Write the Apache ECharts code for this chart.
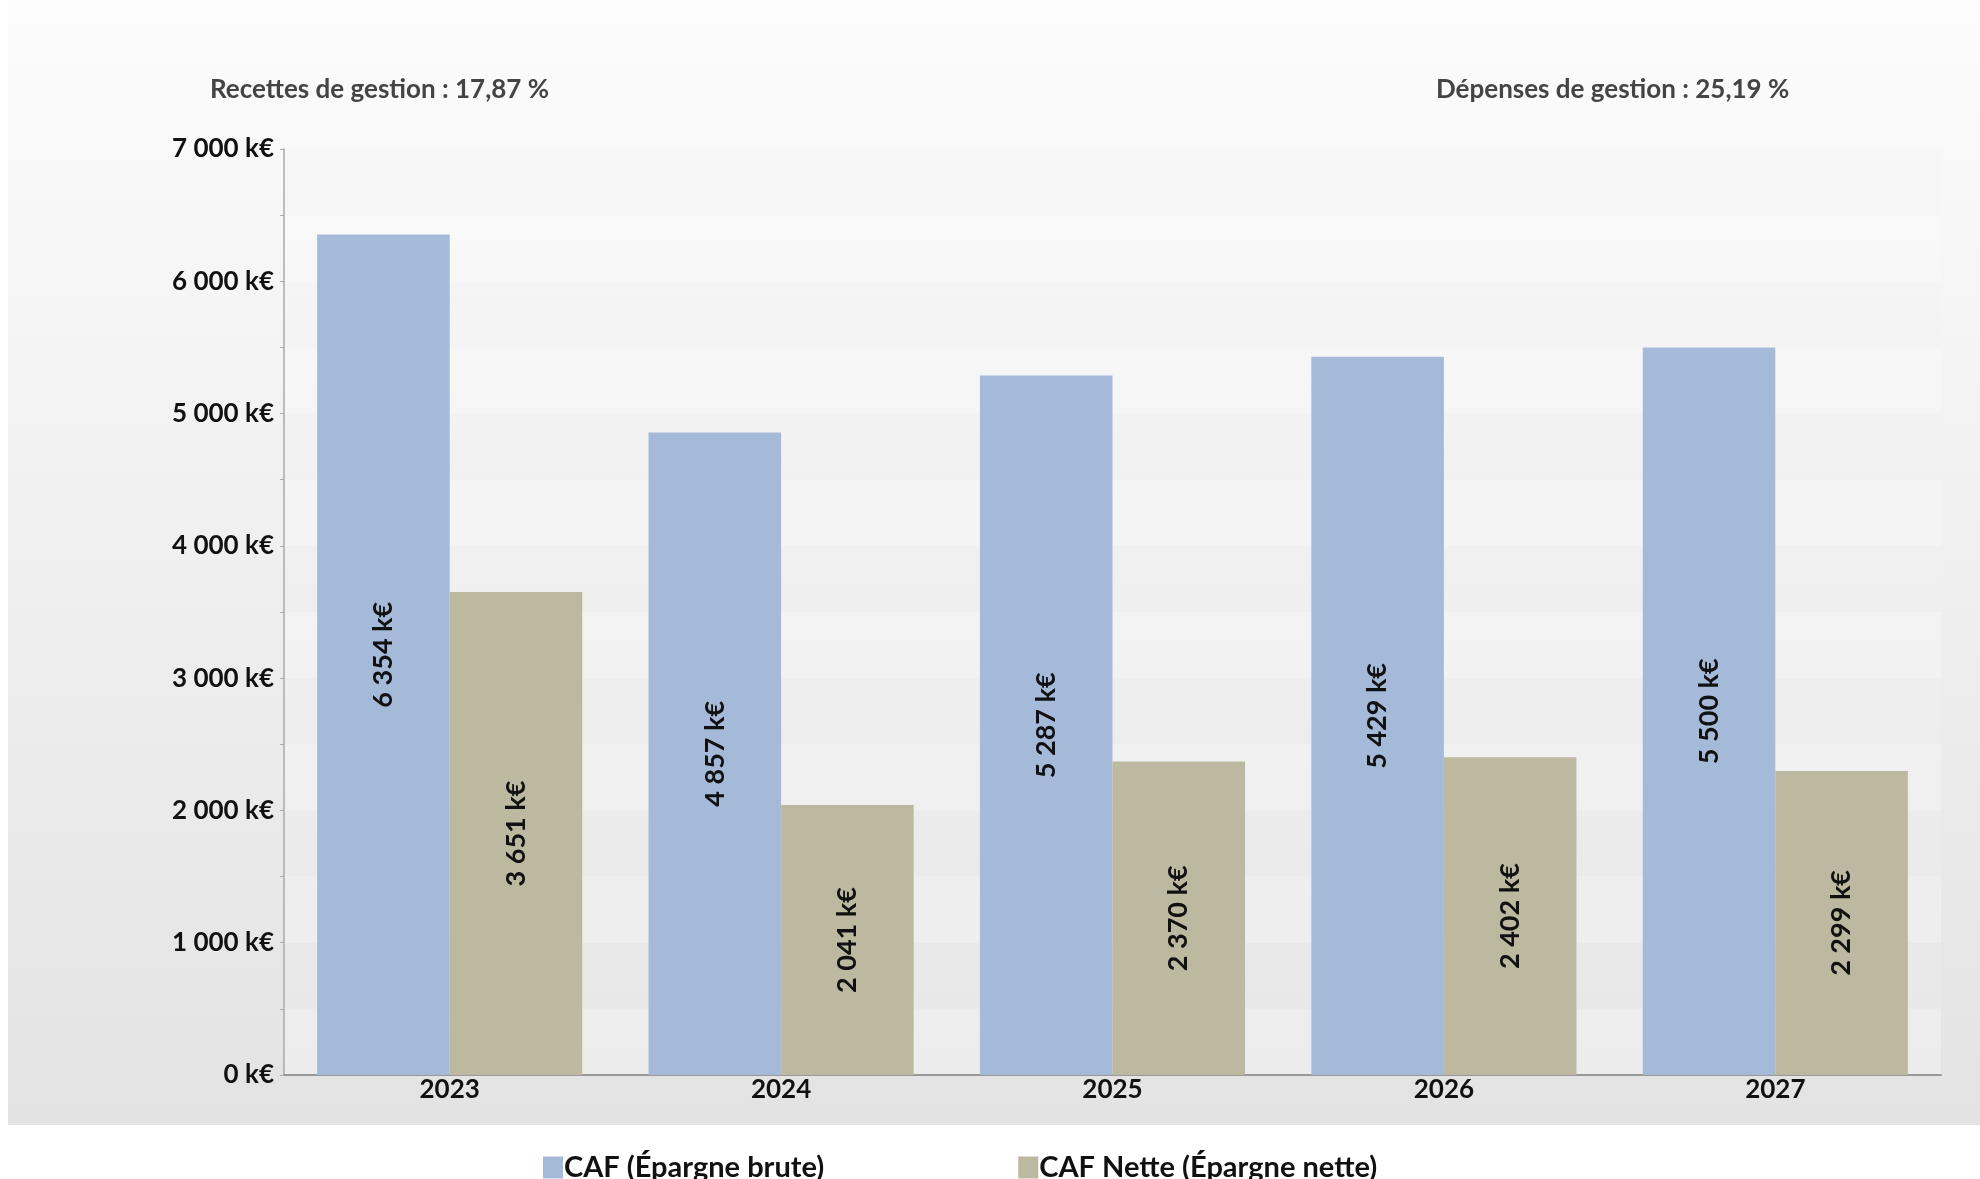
<!DOCTYPE html>
<html>
<head>
<meta charset="utf-8">
<script src="https://cdn.jsdelivr.net/npm/echarts@6/dist/echarts.min.js"></script>
<style>
	html, body { margin: 0; padding: 0; background: #ffffff; }
	#main { width: 1980px; height: 1179px; }
</style>
</head>
<body>
<div id="main"></div>
<script>
	// données
	var annees = [ "2023", "2024", "2025", "2026", "2027" ];
	var cafBrute = [ 6354, 4857, 5287, 5429, 5500 ];
	var cafNette = [ 3651, 2041, 2370, 2402, 2299 ];
	var nomsSeries = [ "CAF (Épargne brute)", "CAF Nette (Épargne nette)" ];
	var texteRecettes = "Recettes de gestion : 17,87 %";
	var texteDepenses = "Dépenses de gestion : 25,19 %";

	var police = "Lato, 'Noto Sans', sans-serif";

	// 6354 -> "6 354 k€"
	function keur(v) {
		return String(v).replace(/\B(?=(\d{3})+(?!\d))/g, " ") + " k€";
	}

	var myChart = echarts.init(document.getElementById('main'));

	var labelBarre = {
		show : true,
		position : 'inside',
		rotate : 90,
		color : '#111',
		fontFamily : police,
		fontWeight : 'bold',
		fontSize : 27,
		formatter : function(p) {
			return keur(p.value);
		}
	};

	var option = {
		animation : false,
		textStyle : { fontFamily : police },
		graphic : [ {
			type : 'rect',
			z : -10,
			silent : true,
			shape : { x : 8, y : 0, width : 1972, height : 1125 },
			style : {
				fill : new echarts.graphic.LinearGradient(0, 0, 0, 1, [
					{ offset : 0, color : '#fcfcfc' },
					{ offset : 1, color : '#e3e3e3' } ])
			}
		} ],
		title : [ {
			text : texteRecettes,
			left : 205,
			top : 72,
			textStyle : { color : '#444', fontSize : 26, fontWeight : 'bold', fontFamily : police }
		}, {
			text : texteDepenses,
			left : 1431,
			top : 72,
			textStyle : { color : '#444', fontSize : 26, fontWeight : 'bold', fontFamily : police }
		} ],
		legend : {
			left : 538,
			top : 1148,
			itemWidth : 20,
			itemHeight : 22,
			itemGap : 194,
			icon : 'rect',
			textStyle : { color : '#111', fontSize : 29, fontWeight : 'bold', fontFamily : police, padding : [ 0, 0, 0, -4 ] },
			data : nomsSeries
		},
		grid : {
			left : 284,
			right : 39,
			top : 149,
			bottom : 104,
			show : true,
			borderWidth : 0,
			backgroundColor : new echarts.graphic.LinearGradient(0, 0, 0, 1, [
				{ offset : 0, color : '#f9f9f9' },
				{ offset : 1, color : '#e9e9e9' } ])
		},
		xAxis : {
			type : 'category',
			data : annees,
			axisLine : { lineStyle : { color : '#999', width : 2 } },
			axisTick : { show : false },
			axisLabel : { color : '#111', fontSize : 26, fontWeight : 'bold', margin : 2, fontFamily : police }
		},
		yAxis : {
			type : 'value',
			min : 0,
			max : 7000,
			interval : 500,
			axisLine : { show : true, lineStyle : { color : '#aaa', width : 1.5 } },
			axisTick : { show : true, length : 4, lineStyle : { color : '#aaa' } },
			splitLine : { show : false },
			splitArea : {
				show : true,
				areaStyle : { color : [ 'rgba(255,255,255,0.15)', 'rgba(0,0,0,0.006)' ] }
			},
			axisLabel : {
				color : '#111',
				fontSize : 26,
				fontWeight : 'bold',
				margin : 10,
				fontFamily : police,
				formatter : function(v) {
					return v % 1000 === 0 ? keur(v) : '';
				}
			}
		},
		series : [ {
			name : nomsSeries[0],
			type : 'bar',
			data : cafBrute,
			barGap : '0%',
			barCategoryGap : '20%',
			itemStyle : { color : '#a5bad9' },
			label : labelBarre
		}, {
			name : nomsSeries[1],
			type : 'bar',
			data : cafNette,
			itemStyle : { color : '#bdb8a0' },
			label : labelBarre
		} ]
	};

	myChart.setOption(option);
</script>
</body>
</html>
